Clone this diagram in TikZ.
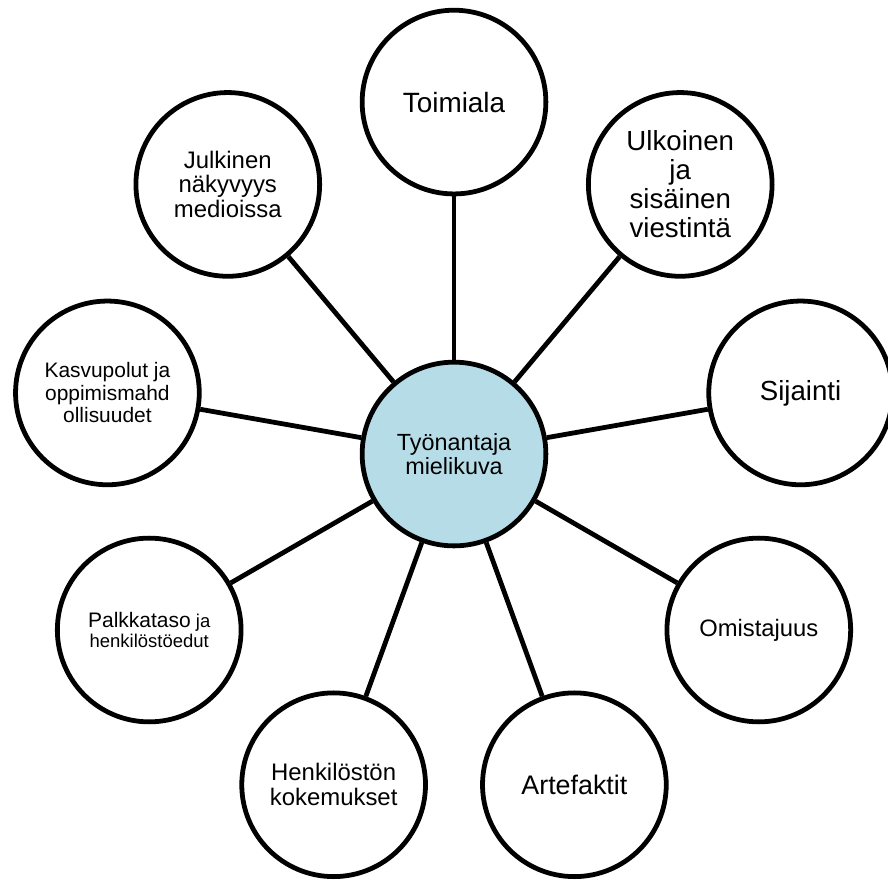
\documentclass[tikz,border=0pt]{standalone}
\usepackage{fontspec}
\setmainfont{Liberation Sans}
\usepackage{xcolor}
\usepackage{tikz}

\definecolor{hubblue}{RGB}{182,221,231}

\tikzset{
  bubble/.style={circle, draw, line width=3.6pt, minimum size=4.86cm, inner sep=0pt, align=center},
  hub/.style={bubble, fill=hubblue},
  spoke/.style={line width=3.6pt}
}

\begin{document}
\begin{tikzpicture}
  \useasboundingbox (-12.01,-11.27) rectangle (11.48,12.01);

  % Centre
  \node[hub, font=\fontsize{17.6}{17.6}\selectfont] (mielikuva) at (0,0) {Työnantaja\\mielikuva};

  % Outer ring, every 40 degrees
  \node[bubble, font=\fontsize{21}{22}\selectfont] (toimiala) at (90:9.31) {Toimiala};
  \node[bubble, font=\fontsize{20.8}{21.75}\selectfont] (viestinta) at (50:9.31) {Ulkoinen\\ja\\sisäinen\\viestintä};
  \node[bubble, font=\fontsize{20.8}{22}\selectfont] (sijainti) at (10:9.31) {Sijainti};
  \node[bubble, font=\fontsize{17.9}{19}\selectfont] (omistajuus) at (-30:9.31) {Omistajuus};
  \node[bubble, font=\fontsize{20.2}{22}\selectfont] (artefaktit) at (-70:9.31) {Artefaktit};
  \node[bubble, font=\fontsize{18}{18.75}\selectfont] (kokemukset) at (-110:9.31) {Henkilöstön\\kokemukset};
  \node[bubble, font=\fontsize{13.9}{15}\selectfont] (palkkataso) at (-150:9.31) {{\fontsize{15.8}{15}\selectfont Palkkataso} ja\\henkilöstöedut};
  \node[bubble, font=\fontsize{15.75}{16.9}\selectfont] (kasvupolut) at (170:9.31) {Kasvupolut ja\\oppimismahd\\ollisuudet};
  \node[bubble, font=\fontsize{18}{18.4}\selectfont] (julkisuus) at (130:9.31) {Julkinen\\näkyvyys\\medioissa};

  % Spokes
  \draw[spoke] (mielikuva) -- (toimiala);
  \draw[spoke] (mielikuva) -- (viestinta);
  \draw[spoke] (mielikuva) -- (sijainti);
  \draw[spoke] (mielikuva) -- (omistajuus);
  \draw[spoke] (mielikuva) -- (artefaktit);
  \draw[spoke] (mielikuva) -- (kokemukset);
  \draw[spoke] (mielikuva) -- (palkkataso);
  \draw[spoke] (mielikuva) -- (kasvupolut);
  \draw[spoke] (mielikuva) -- (julkisuus);
\end{tikzpicture}
\end{document}
